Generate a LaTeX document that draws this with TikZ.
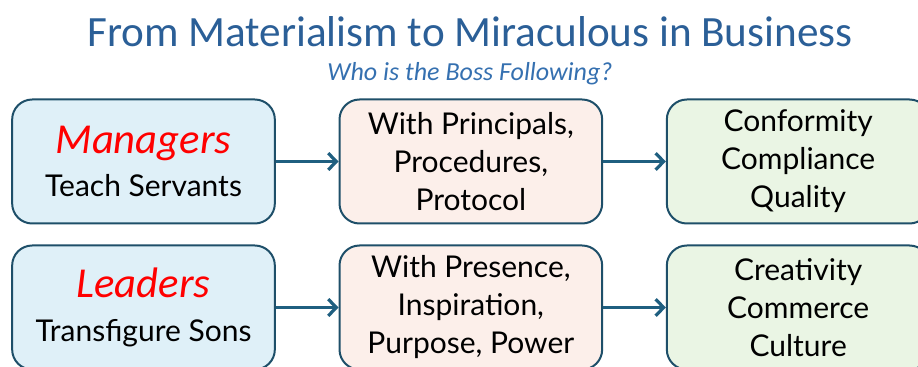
\documentclass[tikz,border=0pt]{standalone}
\usepackage{fontspec}
\setmainfont{Lato}
\newfontfamily\handfont{Carlito}
\usetikzlibrary{positioning}
\usetikzlibrary{arrows.meta}
\definecolor{titleblue}{HTML}{2B5F97}
\definecolor{subblue}{HTML}{3570B0}
\definecolor{boxline}{HTML}{1E4F69}
\definecolor{arrowblue}{HTML}{1F5F80}
\definecolor{rolefill}{HTML}{DFF0F8}
\definecolor{wayfill}{HTML}{FCEFEA}
\definecolor{fruitfill}{HTML}{EAF5E4}
% red word on top of the role boxes
\newcommand{\rolename}[1]{{\handfont\itshape\fontsize{32}{34}\selectfont\color{red}#1}}
\tikzset {
  node distance={15pt and 47pt},
  % rounded boxes of both rows
  box/.style = {draw=boxline, line width=1.5pt, rounded corners=15pt,
    minimum width=197pt, minimum height=93pt, inner sep=0pt,
    align=center, font=\fontsize{22.5}{28.5}\selectfont},
  role/.style={box, fill=rolefill},
  way/.style={box, fill=wayfill},
  fruit/.style={box, fill=fruitfill},
  % connectors between boxes
  flow/.style={arrowblue, line width=2.4pt, -{Straight Barb[length=6pt,width=12.5pt]}},
}

\begin{document}
\begin{tikzpicture}[x=0.75pt,y=-0.75pt]
        \useasboundingbox (0,0) rectangle (918,367);
        \node[font=\handfont\fontsize{32.4}{34}\selectfont, text=titleblue] (title) at (470,32)
          {From Materialism to Miraculous in Business};
        \node[font=\handfont\itshape\fontsize{19.5}{21}\selectfont, text=subblue] (sub) at (470,74)
          {Who is the Boss Following?};

        \node[role] (mgr) at (143.5,161.5)
          {\rolename{Managers}\\[4pt]Teach Servants};
        \node[way] (rules) [right=of mgr]
          {With Principals,\\Procedures,\\Protocol};
        \node[fruit] (comply) [right=of rules]
          {Conformity\\Compliance\\Quality};

        \node[role] (ldr) [below=of mgr]
          {\rolename{Leaders}\\[4pt]Transfigure Sons};
        \node[way] (spirit) [right=of ldr]
          {With Presence,\\Inspiration,\\Purpose, Power};
        \node[fruit] (create) [right=of spirit]
          {Creativity\\Commerce\\Culture};

        \draw [flow] (mgr) -- (rules);
        \draw [flow] (rules) -- (comply);
        \draw [flow] (ldr) -- (spirit);
        \draw [flow] (spirit) -- (create);
      \end{tikzpicture}
\end{document}
